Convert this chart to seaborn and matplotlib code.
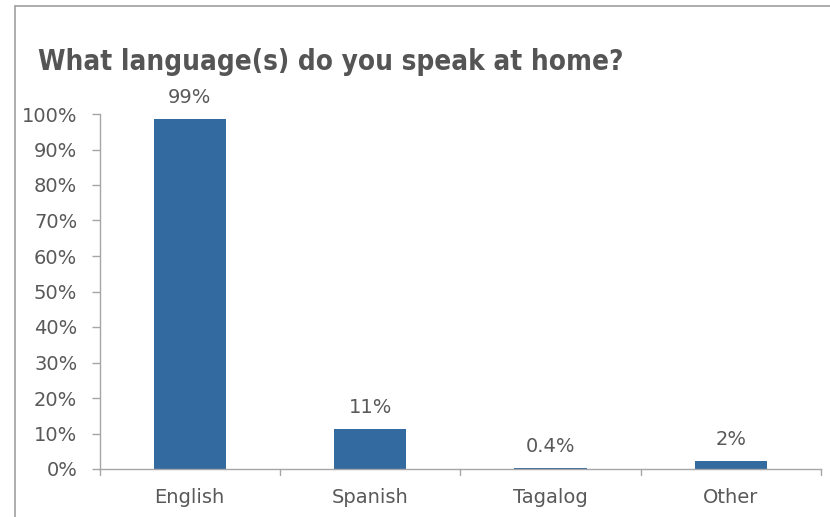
import matplotlib
matplotlib.use("Agg")
import matplotlib.pyplot as plt
import seaborn as sns
import pandas as pd
from matplotlib.lines import Line2D

categories = ["English", "Spanish", "Tagalog", "Other"]
values = [98.6, 11.3, 0.4, 2.2]
value_labels = ["99%", "11%", "0.4%", "2%"]
yticks = [0, 10, 20, 30, 40, 50, 60, 70, 80, 90, 100]
ytick_labels = [f"{v}%" for v in yticks]
title = "What language(s) do you speak at home?"

df = pd.DataFrame({"Language": categories, "Share": values})

sns.set_theme(style="white")
plt.rcParams['font.family'] = ['DejaVu Sans']

W, H = 830, 517
fig = plt.figure(figsize=(W / 100, H / 100), dpi=100)
ax = fig.add_axes([99.5 / W, 1 - 469 / H, (821 - 99.5) / W, (469 - 114) / H])

text_color = "#595959"
axis_color = "#a6a6a6"
bar_color = "#336a9f"

sns.barplot(data=df, x="Language", y="Share", color=bar_color, width=0.4,
            saturation=1, ax=ax, edgecolor="none")

ax.set_ylim(0, 100)
ax.set_xlim(-0.5, len(categories) - 0.5)
ax.set_yticks(yticks)
ax.set_yticklabels(ytick_labels, fontsize=14, color=text_color)
ax.set_xticks(range(len(categories)))
ax.set_xticklabels(categories, fontsize=14, color=text_color)
ax.set_xlabel("")
ax.set_ylabel("")

ax.tick_params(axis="x", length=0, pad=14)
ax.tick_params(axis="y", length=6, width=1, color=axis_color, left=True, pad=10)
for b in [i - 0.5 for i in range(len(categories) + 1)]:
    ax.plot([b, b], [0, -1.6], color=axis_color, lw=1, clip_on=False,
            transform=ax.transData)

for s in ["top", "right"]:
    ax.spines[s].set_visible(False)
for s in ["left", "bottom"]:
    ax.spines[s].set_color(axis_color)
    ax.spines[s].set_linewidth(1)

for i, (v, lab) in enumerate(zip(values, value_labels)):
    ax.annotate(lab, (i, v), xytext=(0, 8.5), textcoords="offset points",
                ha="center", va="bottom", fontsize=14, color=text_color)

fig.text(38 / W, 1 - 70 / H, title, fontsize=20, fontweight="bold",
         fontstretch="condensed", color="#555555", ha="left", va="baseline",
         family=["DejaVu Sans"])

fig.add_artist(Line2D([15 / W, 1], [1 - 6 / H, 1 - 6 / H], transform=fig.transFigure,
                      color="#a0a0a0", lw=1.2))
fig.add_artist(Line2D([15 / W, 15 / W], [0, 1 - 6 / H], transform=fig.transFigure,
                      color="#a0a0a0", lw=1.2))

fig.savefig("out.png", dpi=100, facecolor="white")
